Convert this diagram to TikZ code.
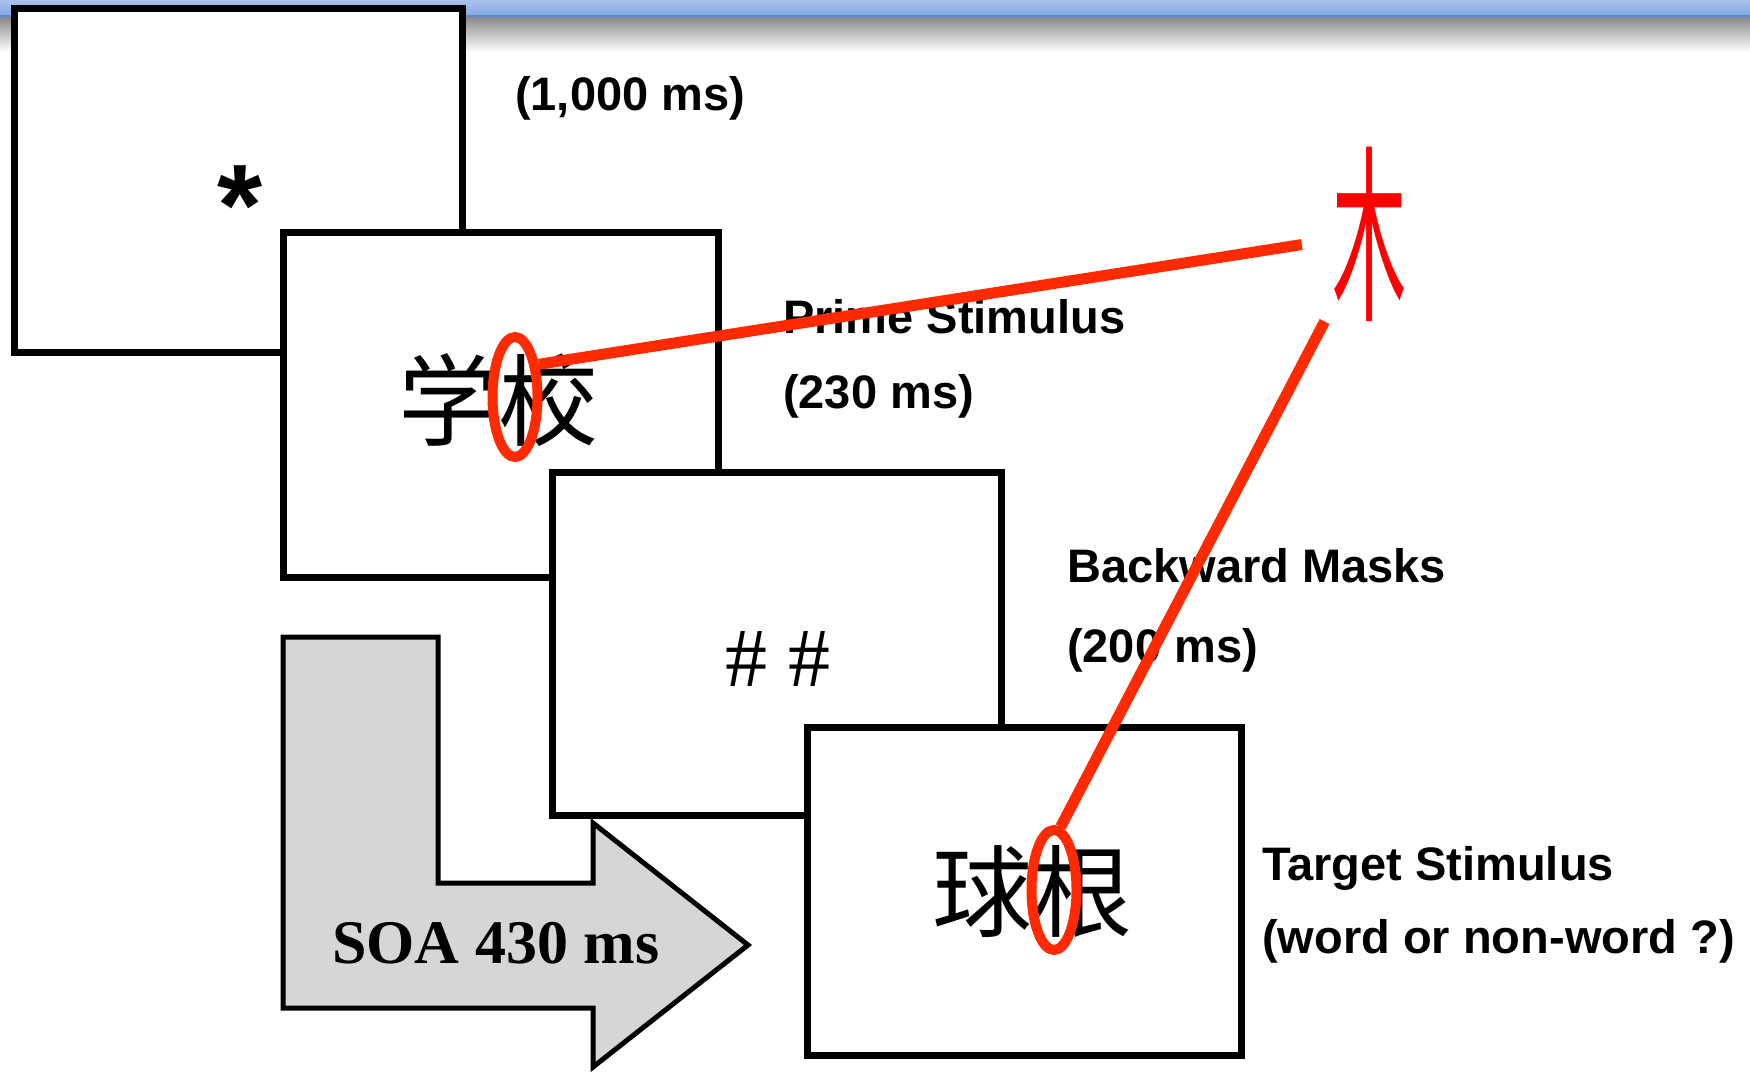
\documentclass[tikz,border=0pt]{standalone}
\usepackage{fontspec}
\setmainfont{Liberation Sans}
\newfontfamily\timesfont{Liberation Serif}
\newfontfamily\cjk{Noto Sans CJK SC}
\usetikzlibrary{shapes.geometric}
\definecolor{ringred}{HTML}{FF2A00}
\definecolor{radred}{HTML}{FF0000}
\definecolor{arrowgray}{HTML}{D6D6D6}
\definecolor{barblue}{HTML}{A9C1EA}
\definecolor{barmid}{HTML}{86A8E4}
\definecolor{bardeep}{HTML}{5A88D8}

\begin{document}
\begin{tikzpicture}[
  x=1pt, y=-1pt,
  frame/.style={draw,line width=7pt,fill=white,inner sep=0pt},
  lbl/.style={anchor=base west,inner sep=0pt,font=\bfseries\fontsize{47}{56}\selectfont},
  hanzi/.style={inner sep=0pt,font=\cjk\fontsize{100}{100}\selectfont},
  ring/.style={ellipse,draw=ringred,line width=10pt,inner sep=0pt,minimum width=45pt,minimum height=120pt},
  link/.style={draw=ringred,line width=11pt}
]
\useasboundingbox (0,0) rectangle (1750,1071);
\fill[white] (0,0) rectangle (1750,1071);
% title bar
\shade[top color=barblue,bottom color=barmid] (0,0) rectangle (1750,15);
\fill[bardeep] (0,15) rectangle (1750,17);
\shade[top color=black!46,bottom color=white] (0,17) rectangle (1750,52);

% the four screens
\node[frame,minimum width=448pt,minimum height=344pt] (fix) at (238,180) {};
\node[frame,minimum width=435pt,minimum height=345pt] (prime) at (500.5,404.5) {};
\node[frame,minimum width=449pt,minimum height=343pt] (mask) at (776.5,643.5) {};
\node[frame,minimum width=434pt,minimum height=328pt] (target) at (1024,891) {};

% SOA arrow
\draw[line width=5pt,fill=arrowgray,line join=miter] (283,637) -- (438,637) -- (438,883) -- (593,883) -- (593,823)
  -- (748,945) -- (593,1067) -- (593,1008) -- (283,1008) -- cycle;
\node[anchor=base west,inner sep=0pt,font=\timesfont\bfseries\fontsize{62}{70}\selectfont] (soa) at (332,963) {SOA 430 ms};

% stimuli
\node[anchor=base,inner sep=0pt,font=\bfseries\fontsize{116}{116}\selectfont] (star) at (240,245) {*};
\node[hanzi] (primeword) at (498,400) {学校};
\node[anchor=base,inner sep=0pt,font=\timesfont\fontsize{84}{84}\selectfont] (hash) at (778,686) {\# \#};
\node[hanzi] (targetword) at (1032,892) {球根};

% labels
\node[lbl] (fixtime) at (515,110) {(1,000 ms)};
\node[lbl] (primename) at (783,333) {Prime Stimulus};
\node[lbl] (primetime) at (783,408) {(230 ms)};
\node[lbl] (maskname) at (1067,582) {Backward Masks};
\node[lbl] (masktime) at (1067,662) {(200 ms)};
\node[lbl] (targetname) at (1262,880) {Target Stimulus};
\node[lbl] (targettask) at (1262,953) {(word or non-word ?)};

% shared radical
\node[inner sep=0pt,minimum width=136pt,minimum height=172pt] (rad) at (1370,234)
  {\scalebox{0.39}[1]{\color{radred}\cjk\fontsize{190}{190}\selectfont 木}};
\node[ring] (primering) at (515,397) {};
\node[ring] (targetring) at (1054,890) {};
\draw[link] (primering.54) -- (rad);
\draw[link] (targetring.84) -- (rad);
\end{tikzpicture}
\end{document}
